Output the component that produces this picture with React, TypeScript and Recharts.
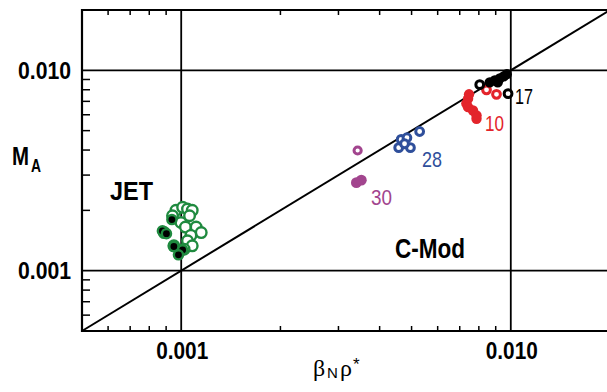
import { ScatterChart, Scatter, XAxis, YAxis, ReferenceLine, ReferenceArea } from "recharts";

const X_DOMAIN = [0.0005, 0.02];
const Y_DOMAIN = [0.0005, 0.02];
const MAJOR_TICKS = [0.001, 0.01];
const MINOR_TICKS = [
  0.0006, 0.0007, 0.0008, 0.0009, 0.002, 0.003, 0.004, 0.005, 0.006, 0.007, 0.008, 0.009,
];
const ALL_TICKS = [...MINOR_TICKS, ...MAJOR_TICKS].sort((a, b) => a - b);

// JET
const jetOpen = [
  { x: 0.000964, y: 0.002 },
  { x: 0.00101, y: 0.00207 },
  { x: 0.001045, y: 0.00203 },
  { x: 0.00108, y: 0.002 },
  { x: 0.000941, y: 0.00188 },
  { x: 0.00106, y: 0.00188 },
  { x: 0.000998, y: 0.00174 },
  { x: 0.00103, y: 0.00165 },
  { x: 0.00111, y: 0.00165 },
  { x: 0.00115, y: 0.00155 },
  { x: 0.00107, y: 0.0015 },
  { x: 0.001045, y: 0.00141 },
  { x: 0.00108, y: 0.00133 },
  { x: 0.00102, y: 0.00128 },
  { x: 0.00095, y: 0.00133 },
  { x: 0.000888, y: 0.00155 },
];
const jetFilled = [
  { x: 0.000937, y: 0.0018 },
  { x: 0.000877, y: 0.00158 },
  { x: 0.000902, y: 0.00153 },
  { x: 0.00095, y: 0.00132 },
  { x: 0.00101, y: 0.00127 },
  { x: 0.000981, y: 0.0012 },
];

// C-Mod
const purpleOpen = [{ x: 0.00343, y: 0.00398 }];
const purpleFilled = [
  { x: 0.0034, y: 0.00275 },
  { x: 0.00352, y: 0.00283 },
];
const blueOpen = [
  { x: 0.00529, y: 0.00495 },
  { x: 0.00465, y: 0.00452 },
  { x: 0.00484, y: 0.00461 },
  { x: 0.00457, y: 0.00411 },
  { x: 0.00496, y: 0.00411 },
  { x: 0.00476, y: 0.0043 },
];
const redFilled = [
  { x: 0.00747, y: 0.00759 },
  { x: 0.00742, y: 0.00722 },
  { x: 0.00733, y: 0.00682 },
  { x: 0.00742, y: 0.00655 },
  { x: 0.00768, y: 0.0063 },
  { x: 0.00787, y: 0.00596 },
  { x: 0.00787, y: 0.00573 },
];
const redOpen = [
  { x: 0.00844, y: 0.00799 },
  { x: 0.00905, y: 0.00759 },
];
const blackOpen = [
  { x: 0.00805, y: 0.00848 },
  { x: 0.00981, y: 0.00765 },
];
const blackFilled = [
  { x: 0.00863, y: 0.00871 },
  { x: 0.00913, y: 0.00871 },
  { x: 0.00894, y: 0.00891 },
  { x: 0.00926, y: 0.00912 },
  { x: 0.00952, y: 0.00933 },
  { x: 0.00972, y: 0.00955 },
];

const GREEN = "#1f8a3f";
const RED = "#e3242b";
const BLUE = "#2f4f9b";
const PURPLE = "#a2458e";

const SANS = "'Liberation Sans', Arial, sans-serif";
const SERIF = "'Liberation Serif', 'Times New Roman', serif";

const isMajor = (v: number) => MAJOR_TICKS.some((m) => Math.abs(m - v) < 1e-9);

function BottomTick({ x, y, payload }: any) {
  const major = isMajor(payload.value);
  return (
    <g>
      {!major && <line x1={x} y1={y} x2={x} y2={y - 5} stroke="#000" strokeWidth={1.5} />}
      {major && (
        <text
          x={x + 1}
          y={y + 28}
          textAnchor="middle"
          fontFamily={SANS}
          fontWeight="bold"
          fontSize={23}
          textLength={52}
          lengthAdjust="spacingAndGlyphs"
          fill="#000"
        >
          {payload.value.toFixed(3)}
        </text>
      )}
    </g>
  );
}

function TopTick({ x, y, payload }: any) {
  if (isMajor(payload.value)) return <g />;
  return <line x1={x} y1={y} x2={x} y2={y + 5} stroke="#000" strokeWidth={1.5} />;
}

function LeftTick({ x, y, payload }: any) {
  const major = isMajor(payload.value);
  return (
    <g>
      {!major && <line x1={x} y1={y} x2={x + 8} y2={y} stroke="#000" strokeWidth={1.5} />}
      {major && (
        <text
          x={x - 11}
          y={y + 8.5}
          textAnchor="end"
          fontFamily={SANS}
          fontWeight="bold"
          fontSize={23}
          textLength={53}
          lengthAdjust="spacingAndGlyphs"
          fill="#000"
        >
          {payload.value.toFixed(3)}
        </text>
      )}
    </g>
  );
}

const ring = (color: string, r: number, w: number) => (props: any) =>
  <circle cx={props.cx} cy={props.cy} r={r} fill="#fff" stroke={color} strokeWidth={w} />;

const dot = (color: string, r: number, stroke?: string) => (props: any) =>
  (
    <circle
      cx={props.cx}
      cy={props.cy}
      r={r}
      fill={color}
      stroke={stroke || color}
      strokeWidth={stroke ? 2.4 : 0}
    />
  );

export default function App() {
  return (
    <div
      style={{
        position: "absolute",
        left: 0,
        top: 0,
        width: 607,
        height: 392,
        overflow: "hidden",
        background: "#fff",
      }}
    >
      <ScatterChart width={610} height={392} margin={{ top: 0, right: 0, bottom: 0, left: 0 }}>
        <XAxis
          xAxisId="main"
          dataKey="x"
          type="number"
          scale="log"
          domain={X_DOMAIN}
          allowDataOverflow
          ticks={ALL_TICKS}
          interval={0}
          height={61}
          tickSize={0}
          tickMargin={0}
          tickLine={false}
          axisLine={false}
          tick={<BottomTick />}
        />
        <XAxis
          xAxisId="top"
          orientation="top"
          dataKey="x"
          type="number"
          scale="log"
          domain={X_DOMAIN}
          allowDataOverflow
          ticks={ALL_TICKS}
          interval={0}
          height={10}
          tickSize={0}
          tickMargin={0}
          tickLine={false}
          axisLine={false}
          tick={<TopTick />}
        />
        <YAxis
          yAxisId="main"
          dataKey="y"
          type="number"
          scale="log"
          domain={Y_DOMAIN}
          allowDataOverflow
          ticks={ALL_TICKS}
          interval={0}
          width={82}
          tickSize={0}
          tickMargin={0}
          tickLine={false}
          axisLine={false}
          tick={<LeftTick />}
        />
        <ReferenceArea
          xAxisId="main"
          yAxisId="main"
          x1={X_DOMAIN[0]}
          x2={X_DOMAIN[1]}
          y1={Y_DOMAIN[0]}
          y2={Y_DOMAIN[1]}
          fill="none"
          stroke="#000"
          strokeWidth={2.2}
        />
        {MAJOR_TICKS.map((v) => (
          <ReferenceLine key={"vx" + v} xAxisId="main" yAxisId="main" x={v} stroke="#000" strokeWidth={1.8} />
        ))}
        {MAJOR_TICKS.map((v) => (
          <ReferenceLine key={"hy" + v} xAxisId="main" yAxisId="main" y={v} stroke="#000" strokeWidth={1.8} />
        ))}
        <ReferenceLine
          xAxisId="main"
          yAxisId="main"
          segment={[
            { x: X_DOMAIN[0], y: Y_DOMAIN[0] },
            { x: X_DOMAIN[1], y: Y_DOMAIN[1] },
          ]}
          stroke="#000"
          strokeWidth={2}
        />
        <Scatter xAxisId="main" yAxisId="main" data={jetOpen} shape={ring(GREEN, 5.3, 2.4)} isAnimationActive={false} />
        <Scatter xAxisId="main" yAxisId="main" data={jetFilled} shape={dot("#000", 4.6, GREEN)} isAnimationActive={false} />
        <Scatter xAxisId="main" yAxisId="main" data={purpleOpen} shape={ring(PURPLE, 3.6, 3)} isAnimationActive={false} />
        <Scatter xAxisId="main" yAxisId="main" data={purpleFilled} shape={dot(PURPLE, 5.4)} isAnimationActive={false} />
        <Scatter xAxisId="main" yAxisId="main" data={blueOpen} shape={ring(BLUE, 3.9, 3)} isAnimationActive={false} />
        <Scatter xAxisId="main" yAxisId="main" data={redFilled} shape={dot(RED, 5.2)} isAnimationActive={false} />
        <Scatter xAxisId="main" yAxisId="main" data={redOpen} shape={ring(RED, 3.9, 3)} isAnimationActive={false} />
        <Scatter xAxisId="main" yAxisId="main" data={blackFilled} shape={dot("#000", 5.2)} isAnimationActive={false} />
        <Scatter xAxisId="main" yAxisId="main" data={blackOpen} shape={ring("#000", 3.9, 3)} isAnimationActive={false} />
      </ScatterChart>

      <svg
        width={607}
        height={392}
        style={{ position: "absolute", left: 0, top: 0, pointerEvents: "none" }}
      >
        <g fontFamily={SANS} fontWeight="bold" fill="#000">
          <text x={12} y={165} fontSize={25} textLength={17} lengthAdjust="spacingAndGlyphs">
            M
          </text>
          <text x={31} y={172} fontSize={18} textLength={10} lengthAdjust="spacingAndGlyphs">
            A
          </text>
          <text x={110} y={200} fontSize={25} textLength={43} lengthAdjust="spacingAndGlyphs">
            JET
          </text>
          <text x={395} y={258} fontSize={27} textLength={70} lengthAdjust="spacingAndGlyphs">
            C-Mod
          </text>
        </g>
        <g fontFamily={SANS} fontSize={22}>
          <text x={515} y={104} fill="#000" textLength={18} lengthAdjust="spacingAndGlyphs">
            17
          </text>
          <text x={485} y={131} fill={RED} textLength={19} lengthAdjust="spacingAndGlyphs">
            10
          </text>
          <text x={422} y={167} fill={BLUE} textLength={20} lengthAdjust="spacingAndGlyphs">
            28
          </text>
          <text x={371} y={205} fill={PURPLE} textLength={21} lengthAdjust="spacingAndGlyphs">
            30
          </text>
        </g>
        <g fill="#000">
          <text x={313} y={376} fontFamily={SERIF} fontSize={24}>
            β
          </text>
          <text x={327} y={378} fontFamily={SANS} fontSize={15}>
            N
          </text>
          <text x={340} y={376} fontFamily={SERIF} fontSize={24}>
            ρ
          </text>
          <text x={353} y={370} fontFamily={SANS} fontSize={17}>
            *
          </text>
        </g>
      </svg>
    </div>
  );
}
